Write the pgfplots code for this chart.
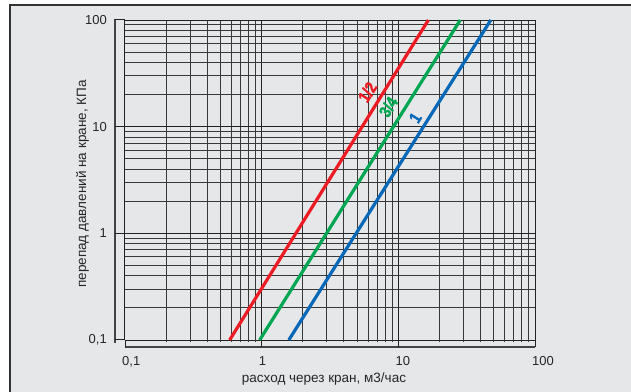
\documentclass[border=0pt]{standalone}
\usepackage{pgfplots}
\pgfplotsset{compat=1.18}
\usepackage{fontspec}
\setmainfont{Liberation Sans}
\newfontfamily\lblfont[FakeStretch=0.84, FakeBold=1.5]{Liberation Sans Bold}
\newcommand\lbl[1]{{\lblfont\fontsize{17bp}{19bp}\selectfont #1}}
\definecolor{bg}{HTML}{E6E7E9}
\definecolor{gridc}{HTML}{222222}
\definecolor{cred}{HTML}{ED1C24}
\definecolor{cgreen}{HTML}{00A651}
\definecolor{cblue}{HTML}{0868B8}
\begin{document}
\begin{tikzpicture}
\useasboundingbox (0,0) rectangle (631bp,392bp);
\fill[white] (0,0) rectangle (631bp,392bp);
\fill[bg] (10bp,0) rectangle (631bp,387bp);
\draw[black!80, line width=1.4bp] (10bp,0) -- (10bp,387bp) -- (631bp,387bp);
\begin{axis}[
 at={(125bp,52bp)}, anchor=south west,
 scale only axis, width=410bp, height=320bp,
 xmode=log, ymode=log, xmin=0.1, xmax=100, ymin=0.1, ymax=100,
 axis line style={draw=none},
 major tick length=0pt, minor tick length=0pt,
 grid=both,
 major grid style={gridc, line width=1bp},
 minor grid style={gridc!90, line width=1bp},
 xtick={0.1,1,10,100}, xticklabels={{0,1},1,10,100},
 ytick={0.1,1,10,100}, yticklabels={{0,1},1,10,100},
 minor xtick={0.2,0.3,0.4,0.5,0.6,0.7,0.8,0.9,2,3,4,5,6,7,8,9,20,30,40,50,60,70,80,90},
 minor ytick={0.2,0.3,0.4,0.5,0.6,0.7,0.8,0.9,2,3,4,5,6,7,8,9,20,30,40,50,60,70,80,90},
 xticklabel style={anchor=north west, inner sep=0pt, xshift=-3bp, yshift=-16bp, font=\fontsize{13bp}{15bp}\selectfont, text=black!85},
 yticklabel style={anchor=east, inner sep=0pt, xshift=-18bp, font=\fontsize{13bp}{15bp}\selectfont, text=black!85},
 clip=false,
]
\addplot[cred, line width=3.2bp] coordinates {(0.583,0.1) (16.6,100)};
\addplot[cgreen, line width=3.2bp] coordinates {(0.967,0.1) (28.4,100)};
\addplot[cblue, line width=3.2bp] coordinates {(1.58,0.1) (47.5,100)};
\node[text=cred, rotate=58, inner sep=0pt] at (axis cs:5.94,21.1) {\lbl{1/2}};
\node[text=cgreen, rotate=58, inner sep=0pt] at (axis cs:8.45,15.3) {\lbl{3/4}};
\node[text=cblue, rotate=58, inner sep=0pt] at (axis cs:13.3,12.1) {\lbl{1}};
\end{axis}
% offset axis lines
\draw[gridc!85, line width=1.4bp] (115bp,372.5bp) -- (115bp,49bp);
\draw[gridc!85, line width=1.3bp] (125bp,45bp) -- (535bp,45bp);
\foreach \x in {125,261.667,398.333,535} \draw[gridc, line width=1bp] (\x bp,52bp) -- (\x bp,45bp);
\foreach \y in {52,158.667,265.333,372} \draw[gridc, line width=1bp] (115bp,\y bp) -- (125bp,\y bp);
\foreach \k in {0,1,2} \foreach \l in {0.30103,0.47712,0.60206,0.69897,0.77815,0.84510,0.90309,0.95424}
  \draw[gridc!90, line width=1bp] ({125bp+136.667bp*(\k+\l)},52bp) -- ++(0,-2.5bp);
\node[text=black!85, font=\fontsize{13.5bp}{16bp}\selectfont] at (324bp,12.5bp) {расход через кран, м3/час};
\node[text=black!85, rotate=90, font=\fontsize{13.5bp}{16bp}\selectfont] at (82.5bp,208bp) {перепад давлений на кране, КПа};
\end{tikzpicture}
\end{document}
